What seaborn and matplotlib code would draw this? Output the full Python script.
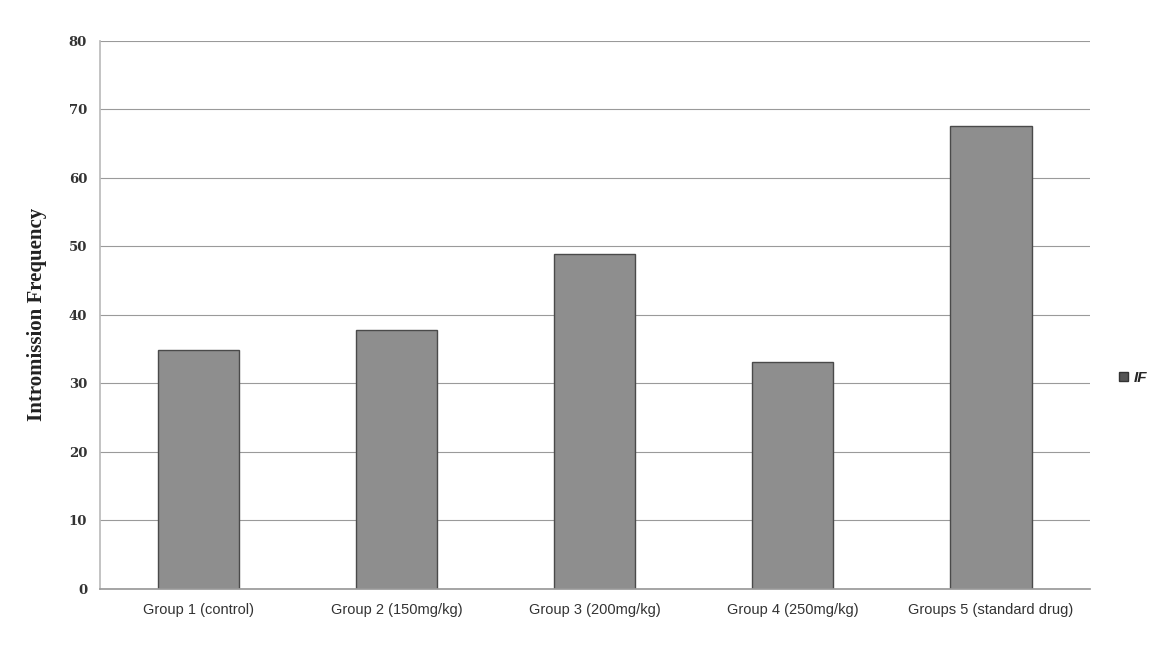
import matplotlib
matplotlib.use("Agg")
import matplotlib.pyplot as plt
import seaborn as sns
import pandas as pd
from matplotlib.patches import Patch

groups = ["Group 1 (control)", "Group 2 (150mg/kg)", "Group 3 (200mg/kg)",
          "Group 4 (250mg/kg)", "Groups 5 (standard drug)"]
intromission = [34.8, 37.8, 48.9, 33.1, 67.6]
yticks = [0, 10, 20, 30, 40, 50, 60, 70, 80]
series_name = "IF"

df = pd.DataFrame({"group": groups, "value": intromission})

sns.set_theme(style="white")
fig = plt.figure(figsize=(11.72, 6.6), dpi=100)
ax = fig.add_axes([0.085, 0.108, 0.845, 0.83])

sns.barplot(data=df, x="group", y="value", ax=ax, color="#8e8e8e",
            width=0.41, edgecolor="#4a4a4a", linewidth=1.0, saturation=1)

ax.set_ylim(0, 80)
ax.set_yticks(yticks)
ax.set_yticklabels([str(t) for t in yticks], fontsize=9.5, fontweight="bold",
                   family="DejaVu Serif", color="#333333")
ax.yaxis.grid(True, color="#9a9a9a", linewidth=0.8)
ax.set_axisbelow(True)
ax.tick_params(axis="y", length=0, pad=9)
ax.tick_params(axis="x", length=0, pad=10)
for lbl in ax.get_xticklabels():
    lbl.set_fontsize(10.5)
    lbl.set_family("Liberation Sans")
    lbl.set_color("#333333")
ax.set_xlabel("")
ax.set_ylabel("Intromission Frequency", fontsize=15, fontweight="bold",
              family="Liberation Serif", color="#222222", labelpad=16)
for side in ["top", "right"]:
    ax.spines[side].set_visible(False)
ax.spines["left"].set_color("#bbbbbb")
ax.spines["bottom"].set_color("#9a9a9a")

handle = Patch(facecolor="#555555", edgecolor="#333333", label=series_name)
leg = ax.legend(handles=[handle], loc="center left", bbox_to_anchor=(1.015, 0.385),
                frameon=False, handlelength=0.6, handleheight=0.6, handletextpad=0.4,
                prop={"weight": "bold", "style": "italic", "size": 11,
                      "family": "Liberation Sans"})

fig.savefig("out.png", dpi=100)
